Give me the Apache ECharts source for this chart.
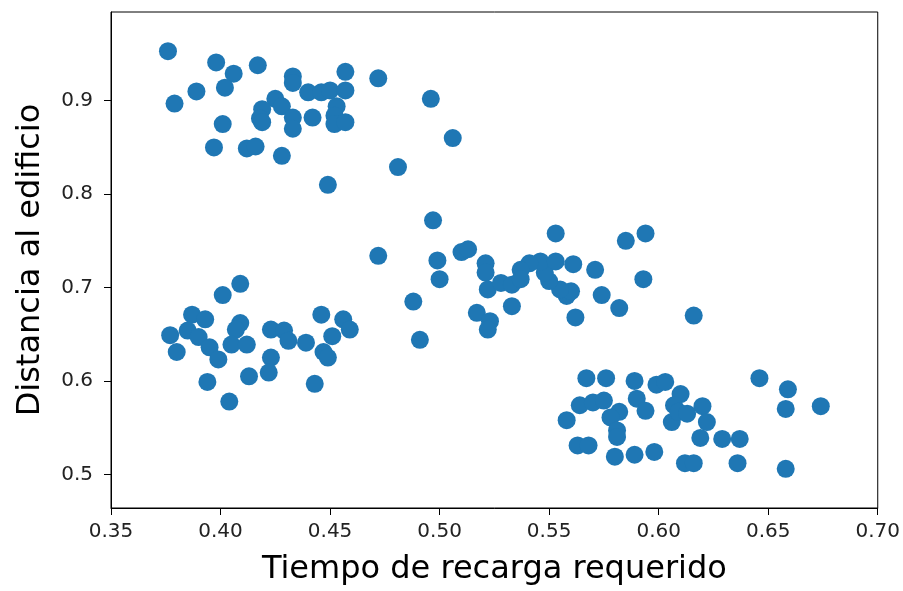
<!DOCTYPE html>
<html>
<head>
<meta charset="utf-8">
<script src="https://cdn.jsdelivr.net/npm/echarts@6/dist/echarts.min.js"></script>
<style>
  html, body { margin: 0; padding: 0; background: #fff; }
  #chart { width: 903px; height: 591px; }
</style>
</head>
<body>
<div id="chart"></div>
<script>
  // tick labels
  var xTicks = [0.35, 0.40, 0.45, 0.50, 0.55, 0.60, 0.65, 0.70];
  var yTicks = [0.5, 0.6, 0.7, 0.8, 0.9];

  // four groups of points, [tiempo, distancia]
  var grupoArribaIzq = [
    [0.376,0.953],[0.379,0.897],[0.389,0.910],[0.398,0.941],[0.406,0.929],[0.402,0.914],
    [0.401,0.875],[0.397,0.850],[0.412,0.849],[0.416,0.851],[0.417,0.938],[0.428,0.841],
    [0.433,0.926],[0.433,0.919],[0.440,0.909],[0.446,0.909],[0.450,0.911],[0.457,0.911],
    [0.457,0.931],[0.472,0.924],[0.425,0.902],[0.428,0.894],[0.419,0.891],[0.418,0.881],
    [0.419,0.877],[0.433,0.882],[0.433,0.870],[0.442,0.882],[0.453,0.894],[0.452,0.884],
    [0.452,0.875],[0.457,0.877],[0.481,0.829],[0.449,0.810],[0.496,0.902],[0.506,0.860]
  ];
  var grupoMedio = [
    [0.497,0.772],[0.472,0.734],[0.499,0.729],[0.500,0.709],[0.510,0.738],[0.513,0.741],
    [0.521,0.726],[0.521,0.716],[0.522,0.698],[0.528,0.705],[0.533,0.703],[0.488,0.685],
    [0.517,0.673],[0.523,0.664],[0.522,0.655],[0.533,0.680],[0.491,0.644],[0.553,0.758],
    [0.585,0.750],[0.594,0.758],[0.593,0.709],[0.616,0.670],[0.582,0.678],[0.574,0.692],
    [0.571,0.719],[0.561,0.725],[0.562,0.668],[0.558,0.691],[0.560,0.696],[0.555,0.698],
    [0.550,0.707],[0.548,0.716],[0.546,0.728],[0.553,0.728],[0.541,0.726],[0.537,0.719],
    [0.537,0.709]
  ];
  var grupoAbajoIzq = [
    [0.409,0.704],[0.401,0.692],[0.387,0.671],[0.393,0.666],[0.377,0.649],[0.385,0.654],
    [0.380,0.631],[0.390,0.647],[0.395,0.636],[0.399,0.623],[0.409,0.662],[0.407,0.655],
    [0.405,0.639],[0.412,0.639],[0.394,0.599],[0.404,0.578],[0.413,0.605],[0.423,0.655],
    [0.429,0.654],[0.431,0.643],[0.439,0.641],[0.423,0.625],[0.422,0.609],[0.446,0.671],
    [0.456,0.666],[0.459,0.655],[0.451,0.648],[0.447,0.631],[0.449,0.625],[0.443,0.597]
  ];
  var grupoAbajoDer = [
    [0.567,0.603],[0.576,0.603],[0.589,0.600],[0.599,0.596],[0.603,0.599],[0.646,0.603],
    [0.659,0.591],[0.658,0.570],[0.674,0.573],[0.558,0.558],[0.564,0.574],[0.570,0.577],
    [0.575,0.579],[0.582,0.567],[0.578,0.561],[0.581,0.547],[0.581,0.540],[0.590,0.581],
    [0.594,0.568],[0.610,0.586],[0.607,0.574],[0.606,0.556],[0.609,0.567],[0.613,0.565],
    [0.620,0.573],[0.622,0.556],[0.619,0.539],[0.629,0.538],[0.637,0.538],[0.636,0.512],
    [0.658,0.506],[0.612,0.512],[0.616,0.512],[0.563,0.531],[0.568,0.531],[0.580,0.519],
    [0.589,0.521],[0.598,0.524]
  ];

  var puntos = grupoArribaIzq.concat(grupoMedio, grupoAbajoIzq, grupoAbajoDer);

  var myChart = echarts.init(document.getElementById('chart'));
  var fuente = 'DejaVu Sans';

  myChart.setOption({
    animation: false,
    grid: {
      left: 111, right: 23, top: 12, bottom: 80,
      show: true, borderColor: '#000', borderWidth: 1
    },
    xAxis: {
      type: 'value',
      min: 0.35, max: 0.70, interval: 0.05,
      name: 'Tiempo de recarga requerido',
      nameLocation: 'middle',
      nameGap: 46,
      nameTextStyle: { fontFamily: fuente, fontSize: 32, color: '#000' },
      axisLine: { show: true, lineStyle: { color: '#000', width: 1 } },
      axisTick: { show: true, length: 7, lineStyle: { color: '#000' } },
      axisLabel: {
        margin: 14, fontFamily: fuente, fontSize: 20, color: '#222',
        formatter: function (v) { return v.toFixed(2); }
      },
      splitLine: { show: false }
    },
    yAxis: {
      type: 'value',
      min: 0.464, max: 0.995,
      name: 'Distancia al edificio',
      nameLocation: 'middle',
      nameGap: 64,
      nameTextStyle: { fontFamily: fuente, fontSize: 32, color: '#000' },
      axisLine: { show: true, lineStyle: { color: '#000', width: 1 } },
      axisTick: { show: true, length: 7, customValues: yTicks, lineStyle: { color: '#000' } },
      axisLabel: {
        margin: 18, fontFamily: fuente, fontSize: 20, color: '#222',
        customValues: yTicks,
        formatter: function (v) { return v.toFixed(1); }
      },
      splitLine: { show: false }
    },
    series: [{
      type: 'scatter',
      data: puntos,
      symbolSize: 18,
      itemStyle: { color: '#1f77b4', opacity: 1 }
    }]
  });
</script>
</body>
</html>
